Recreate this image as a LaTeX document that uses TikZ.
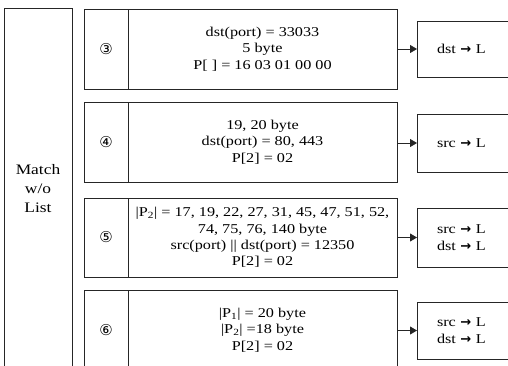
\documentclass[tikz,border=0pt]{standalone}
\usepackage{fontspec}
\setmainfont{Liberation Serif}[FakeStretch=1.2]
\newfontfamily\circfont{DejaVu Sans}
\usetikzlibrary{arrows.meta}
\tikzset{
  box/.style={draw=black!85, line width=0.8pt, rectangle, inner sep=0pt, outer sep=0pt},
  txt/.style={align=center, font=\fontsize{13.5}{16.3}\selectfont},
  numcell/.style={box, minimum width=44pt, font=\circfont\fontsize{15}{16}\selectfont},
  content/.style={box, txt, minimum width=269pt},
  result/.style={box, minimum width=95pt, text width=55pt, align=left, font=\fontsize{13.5}{16.3}\selectfont},
  arr/.style={draw=black!85, line width=0.8pt, -{Triangle[length=7pt,width=8pt]}},
}
\newcommand{\rarr}{{\circfont\bfseries\fontsize{13}{14}\selectfont →}}
\begin{document}
\begin{tikzpicture}[x=1pt, y=-1pt]
\clip (0,0) rectangle (508,365);
\useasboundingbox (0,0) rectangle (508,365);
% left box
\node[box, minimum width=68pt, minimum height=380pt] (left) at (38,198) {};
\node[txt, font=\fontsize{14.5}{19}\selectfont] (lefttxt) at (38,189) {Match\\w/o\\List};
% row 3
\node[numcell, minimum height=80pt] (n3) at (106,49) {③};
\node[content, minimum height=80pt] (c3) at (262.5,49) {dst(port) = 33033\\5 byte\\P[ ] = 16 03 01 00 00};
\node[result, minimum height=56pt] (r3) at (464.5,49) {dst \rarr{} L};
% row 4
\node[numcell, minimum height=80pt] (n4) at (106,142) {④};
\node[content, minimum height=80pt] (c4) at (262.5,142) {19, 20 byte\\dst(port) = 80, 443\\P[2] = 02};
\node[result, minimum height=58pt] (r4) at (464.5,143) {src \rarr{} L};
% row 5
\node[numcell, minimum height=79pt] (n5) at (106,237.5) {⑤};
\node[content, minimum height=79pt] (c5) at (262.5,237.5) {|P\textsubscript{2}| = 17, 19, 22, 27, 31, 45, 47, 51, 52,\\74, 75, 76, 140 byte\\src(port) || dst(port) = 12350\\P[2] = 02};
\node[result, minimum height=59pt] (r5) at (464.5,237.5) {src \rarr{} L\\dst \rarr{} L};
% row 6
\node[numcell, minimum height=80pt] (n6) at (106,330) {⑥};
\node[content, minimum height=80pt] (c6) at (262.5,330) {|P\textsubscript{1}| = 20 byte\\|P\textsubscript{2}| =18 byte\\P[2] = 02};
\node[result, minimum height=57pt] (r6) at (464.5,330.5) {src \rarr{} L\\dst \rarr{} L};
% arrows
\draw[arr] (c3.east |- r3.west) -- (r3.west);
\draw[arr] (c4.east |- r4.west) -- (r4.west);
\draw[arr] (c5.east |- r5.west) -- (r5.west);
\draw[arr] (c6.east |- r6.west) -- (r6.west);
\end{tikzpicture}
\end{document}
